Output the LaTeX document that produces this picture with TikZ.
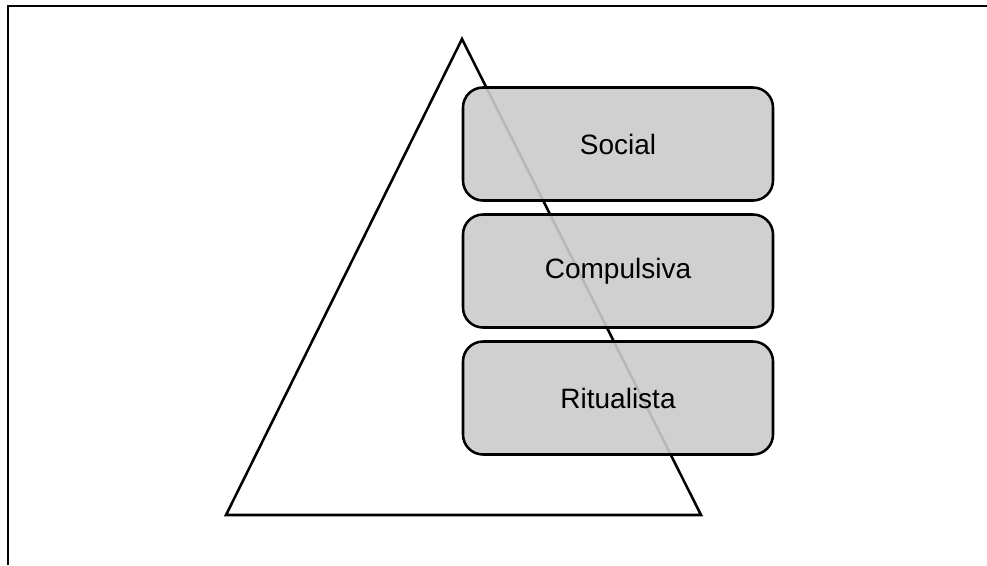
\documentclass[tikz,border=0pt]{standalone}
\usepackage{fontspec}
\setmainfont{Liberation Sans}
\usetikzlibrary{positioning}
\tikzset{
  level/.style={draw, line width=1.9pt, rounded corners=15pt,
    fill={rgb,255:red,203;green,203;blue,203}, fill opacity=0.9, text opacity=1,
    minimum width=232.5pt, minimum height=84.75pt, outer sep=0pt,
    font=\fontsize{21}{25}\selectfont},
}

\begin{document}
\begin{tikzpicture}[x=0.75pt,y=-0.75pt,node distance=10.5pt]
		\useasboundingbox (0,0) rectangle (987,565);
		% frame
		\draw[line width=1.5pt] (8,565) -- (8,6) -- (987,6);
		% pyramid
		\coordinate (apex) at (462,39);
		\coordinate (baseL) at (226,515);
		\coordinate (baseR) at (701,515);
		\draw[line width=1.9pt] (apex) -- (baseR) -- (baseL) -- cycle;
		
		\node[level] (social) at (618,144) {Social};
		\node[level, below=of social] (compulsiva) {Compulsiva};
		\node[level, below=of compulsiva] (ritualista) {Ritualista};
\end{tikzpicture}
\end{document}
